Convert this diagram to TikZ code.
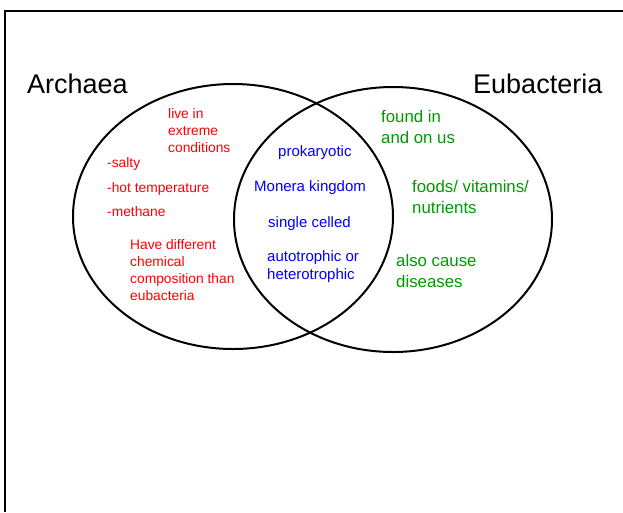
\documentclass[tikz,border=0pt]{standalone}
\usepackage{fontspec}
\setmainfont{Liberation Sans}
\usetikzlibrary{positioning}
\definecolor{arred}{RGB}{255,0,0}
\definecolor{eugreen}{RGB}{0,153,0}
\definecolor{shblue}{RGB}{0,0,255}
\tikzstyle{setring} = [line width=2pt, black]
\tikzstyle{settitle} = [anchor=base west, inner sep=0pt, font=\fontsize{27}{30}\selectfont]
\tikzstyle{arnote} = [anchor=base west, inner sep=0pt, align=left, text=arred, font=\fontsize{13.8}{17}\selectfont]
\tikzstyle{bothnote} = [anchor=base west, inner sep=0pt, align=left, text=shblue, font=\fontsize{15}{18}\selectfont]
\tikzstyle{eunote} = [anchor=base west, inner sep=0pt, align=left, text=eugreen, font=\fontsize{16.8}{20.5}\selectfont]

\begin{document}
\begin{tikzpicture}[x=1pt,y=-1pt]
\useasboundingbox (0,0) rectangle (623,512);
% Frame
\draw[setring] (5,512) -- (5,11) -- (623,11);

% Sets
\draw[setring] (233,216.5) ellipse [x radius=160pt, y radius=132.5pt];
\draw[setring] (393,219.5) ellipse [x radius=159pt, y radius=132.5pt];

% Titles
\node[settitle] (archaea) at (27,93) {Archaea};
\node[settitle] (eubacteria) at (473,93) {Eubacteria};

% Archaea only (multi-line notes sit on their last line)
\node[arnote] (extreme) at (168,152) {live in\\extreme\\conditions};
\node[arnote] (salty) at (107,167) {-salty};
\node[arnote] (hot) at (107,192) {-hot temperature};
\node[arnote] (methane) at (107,216) {-methane};
\node[arnote] (chem) at (130,300) {Have different\\chemical\\composition than\\eubacteria};

% Both
\node[bothnote] (prok) at (278,156) {prokaryotic};
\node[bothnote] (monera) at (254,191) {Monera kingdom};
\node[bothnote] (single) at (268,227) {single celled};
\node[bothnote] (troph) at (267,279) {autotrophic or\\heterotrophic};

% Eubacteria only
\node[eunote] (found) at (381,143) {found in\\and on us};
\node[eunote] (foods) at (412,213) {foods/ vitamins/\\nutrients};
\node[eunote] (disease) at (396,287) {also cause\\diseases};
\end{tikzpicture}
\end{document}
